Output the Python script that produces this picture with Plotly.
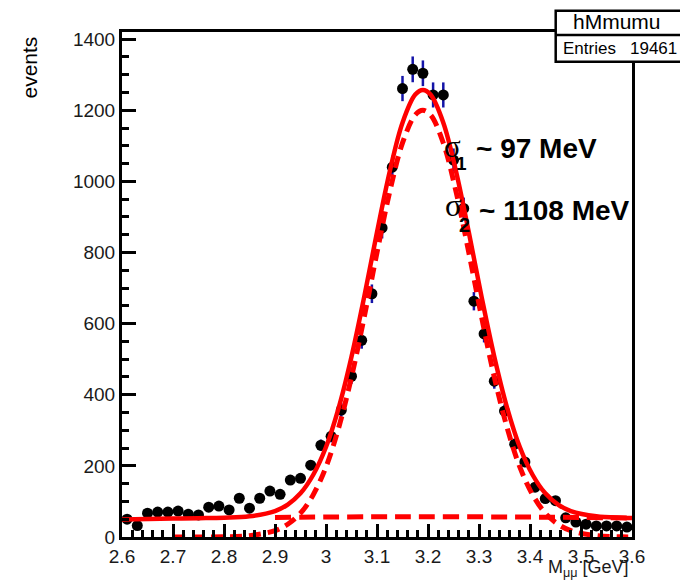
import numpy as np
import plotly.graph_objects as go

# ---- data ----
bin_centers = [2.61, 2.63, 2.65, 2.67, 2.69, 2.71, 2.73, 2.75, 2.77, 2.79,
               2.81, 2.83, 2.85, 2.87, 2.89, 2.91, 2.93, 2.95, 2.97, 2.99,
               3.01, 3.03, 3.05, 3.07, 3.09, 3.11, 3.13, 3.15, 3.17, 3.19,
               3.21, 3.23, 3.25, 3.27, 3.29, 3.31, 3.33, 3.35, 3.37, 3.39,
               3.41, 3.43, 3.45, 3.47, 3.49, 3.51, 3.53, 3.55, 3.57, 3.59]
counts = [50, 32, 67, 70, 70, 73, 64, 62, 84, 87,
          76, 109, 81, 109, 129, 120, 160, 165, 202, 258,
          283, 357, 452, 553, 684, 869, 1040, 1261, 1315, 1304,
          1243, 1243, 1060, 924, 663, 571, 438, 354, 261, 211,
          140, 108, 102, 54, 42, 36, 31, 31, 31, 28]

# total fit curve (solid)
fit_x = [2.60, 2.65, 2.70, 2.75, 2.80, 2.85, 2.90, 2.925, 2.95, 2.975, 3.00, 3.025,
         3.05, 3.075, 3.10, 3.125, 3.15, 3.175, 3.19, 3.205, 3.23, 3.255, 3.28, 3.305,
         3.33, 3.355, 3.38, 3.405, 3.43, 3.455, 3.48, 3.53, 3.58, 3.60]
fit_y = [49.5, 50.6, 51.7, 52.8, 54.2, 58.1, 73, 91.3, 122.7, 175, 253, 364,
         507, 676, 857, 1028, 1165, 1244, 1257, 1244, 1165, 1028, 857, 676,
         507, 364, 253, 175, 122.7, 91.2, 73, 58.1, 54.2, 53.5]

# narrow gaussian component (dashed)
g1_x = [2.70, 2.75, 2.80, 2.85, 2.90, 2.925, 2.95, 2.975, 3.00, 3.025, 3.05, 3.075,
        3.10, 3.125, 3.15, 3.175, 3.19, 3.205, 3.23, 3.255, 3.28, 3.305, 3.33, 3.355,
        3.38, 3.405, 3.43, 3.455, 3.48, 3.53, 3.58, 3.60]
g1_y = [0, 0.1, 0.6, 3.7, 17.9, 35.9, 67, 119, 197, 308, 450, 619,
        800, 971, 1108, 1187, 1200, 1187, 1108, 971, 800, 619, 450, 308,
        197, 119, 67, 35.9, 17.9, 3.7, 0.6, 0.3]

# wide gaussian component (dashed)
g2_x = [2.90, 3.00, 3.10, 3.19, 3.30, 3.40, 3.50, 3.60]
g2_y = [55.1, 56.2, 56.8, 57.0, 56.7, 56.0, 54.8, 53.2]

x_ticks = [2.6, 2.7, 2.8, 2.9, 3.0, 3.1, 3.2, 3.3, 3.4, 3.5, 3.6]
x_ticktext = ["2.6", "2.7", "2.8", "2.9", "3", "3.1", "3.2", "3.3", "3.4", "3.5", "3.6"]
y_ticks = [0, 200, 400, 600, 800, 1000, 1200, 1400]
y_ticktext = ["0", "200", "400", "600", "800", "1000", "1200", "1400"]

hist_name = "hMmumu"
entries = "19461"

errors = np.sqrt(np.array(counts, dtype=float))

RED = "#ff0000"
FONT = "Liberation Sans"

fig = go.Figure()
fig.add_trace(go.Scatter(
    x=bin_centers, y=counts, mode="markers",
    marker=dict(color="black", size=11, line=dict(width=0)),
    error_y=dict(type="data", array=errors, color="#1414a8", thickness=2.5, width=0),
    hoverinfo="skip"))
fig.add_trace(go.Scatter(x=fit_x, y=fit_y, mode="lines",
                         line=dict(color=RED, width=4.5, shape="spline")))
fig.add_trace(go.Scatter(x=g1_x, y=g1_y, mode="lines",
                         line=dict(color=RED, width=5, shape="spline", dash="12px,7px")))
fig.add_trace(go.Scatter(x=g2_x, y=g2_y, mode="lines",
                         line=dict(color=RED, width=5, shape="spline", dash="16px,8px")))

axis_common = dict(showline=True, linecolor="black", linewidth=3, mirror=True,
                   showgrid=False, zeroline=False, ticks="inside", tickcolor="black",
                   tickwidth=2.5, tickfont=dict(family=FONT, size=19, color="#1a1a1a"))

fig.update_xaxes(range=[2.6, 3.6], tickvals=x_ticks, ticktext=x_ticktext, ticklen=13,
                 minor=dict(ticks="inside", dtick=0.02, tick0=2.6, ticklen=7,
                            tickwidth=2.5, tickcolor="black"),
                 **axis_common)
fig.update_yaxes(range=[0, 1420], tickvals=y_ticks, ticktext=y_ticktext, ticklen=14,
                 minor=dict(ticks="inside", dtick=50, tick0=0, ticklen=7,
                            tickwidth=2.5, tickcolor="black"),
                 **axis_common)

L, R, T, B = 122, 48, 32, 44
W, H = 680, 581
pw, ph = W - L - R, H - T - B

def px(X):
    return (X - L) / pw

def py(Y):
    return (H - B - Y) / ph

shapes = [
    dict(type="rect", xref="paper", yref="paper", x0=px(555.7), x1=px(684),
         y0=py(61.7), y1=py(10.7), fillcolor="white",
         line=dict(color="black", width=2.5), layer="above"),
    dict(type="line", xref="paper", yref="paper", x0=px(555.7), x1=px(684),
         y0=py(35), y1=py(35), line=dict(color="black", width=2.5), layer="above"),
]

ann = []
ann.append(dict(xref="paper", yref="paper", x=px(616.5), y=py(22), text=hist_name,
                showarrow=False, xanchor="center", yanchor="middle",
                font=dict(family=FONT, size=21, color="black")))
ann.append(dict(xref="paper", yref="paper", x=px(561), y=py(48), text="Entries",
                showarrow=False, xanchor="left", yanchor="middle",
                font=dict(family=FONT, size=17, color="black")))
ann.append(dict(xref="paper", yref="paper", x=px(679), y=py(48), text=entries,
                showarrow=False, xanchor="right", yanchor="middle",
                font=dict(family=FONT, size=17, color="black")))

# sigma labels
ann.append(dict(xref="paper", yref="paper", x=px(452), y=py(146), text="σ",
                showarrow=False, xanchor="center", yanchor="middle",
                font=dict(family="Liberation Serif", size=31, color="black")))
ann.append(dict(xref="paper", yref="paper", x=px(461), y=py(163), text="<b>1</b>",
                showarrow=False, xanchor="center", yanchor="middle",
                font=dict(family=FONT, size=19, color="black")))
ann.append(dict(xref="paper", yref="paper", x=px(474), y=py(148), text="<b>~ 97 MeV</b>",
                showarrow=False, xanchor="left", yanchor="middle",
                font=dict(family=FONT, size=28, color="black")))
ann.append(dict(xref="paper", yref="paper", x=px(453), y=py(205.5), text="σ",
                showarrow=False, xanchor="center", yanchor="middle",
                font=dict(family="Liberation Serif", size=31, color="black")))
ann.append(dict(xref="paper", yref="paper", x=px(464), y=py(225), text="<b>2</b>",
                showarrow=False, xanchor="center", yanchor="middle",
                font=dict(family=FONT, size=20, color="black")))
ann.append(dict(xref="paper", yref="paper", x=px(477), y=py(210), text="<b>~ 1108 MeV</b>",
                showarrow=False, xanchor="left", yanchor="middle",
                font=dict(family=FONT, size=28, color="black")))

# axis titles
ann.append(dict(xref="paper", yref="paper", x=px(29), y=py(67.5), text="events",
                showarrow=False, xanchor="center", yanchor="middle", textangle=-90,
                font=dict(family=FONT, size=21, color="black")))
ann.append(dict(xref="paper", yref="paper", x=px(631), y=py(568), text="M<sub>μμ</sub> [GeV]",
                showarrow=False, xanchor="right", yanchor="middle",
                font=dict(family=FONT, size=18, color="#1a1a1a")))

fig.update_layout(width=W, height=H, margin=dict(l=L, r=R, t=T, b=B),
                  plot_bgcolor="white", paper_bgcolor="white", showlegend=False,
                  shapes=shapes, annotations=ann)

fig.write_html("out.html")
